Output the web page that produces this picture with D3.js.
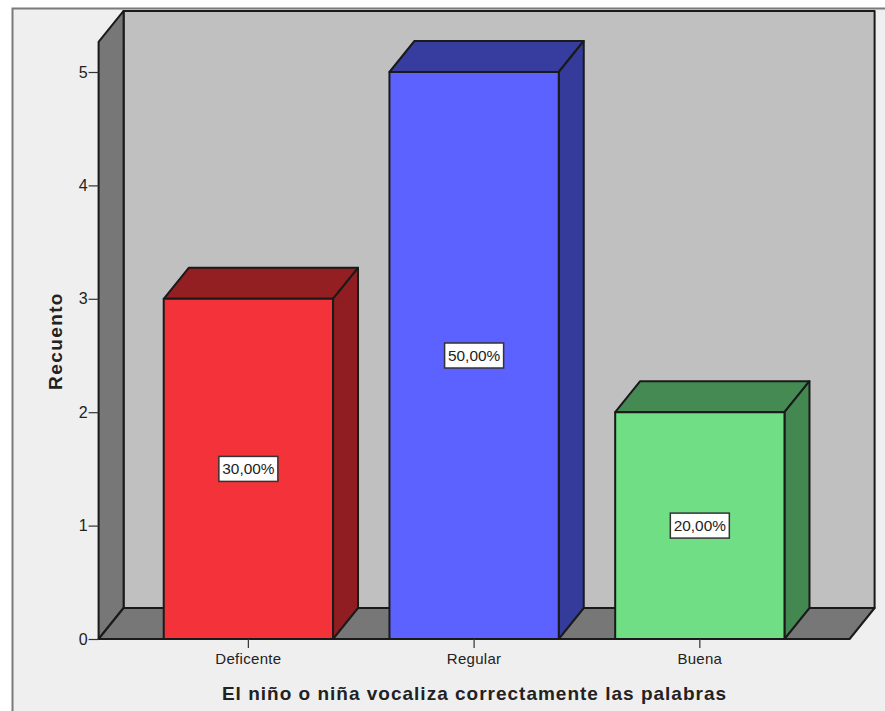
<!DOCTYPE html>
<html><head><meta charset="utf-8">
<script src="https://cdn.jsdelivr.net/npm/d3@7"></script>
<style>html,body{margin:0;padding:0;background:#fff;overflow:hidden}svg{display:block}text{font-family:"Liberation Sans",Arial,sans-serif;fill:#222}</style>
</head><body><svg id="c" width="885" height="711"></svg>
<script>
const categories = ["Deficente","Regular","Buena"];
const counts = [3,5,2];
const percentLabels = ["30,00%","50,00%","20,00%"];
const frontColors = ["#f33339","#5b62ff","#70de84"];
const topColors = ["#931f23","#373d9f","#458a52"];
const sideColors = ["#8f1d21","#353b9b","#438850"];
const yTicks = [0,1,2,3,4,5];
const xTitle = "El niño o niña vocaliza correctamente las palabras";
const yTitle = "Recuento";

const svg = d3.select("#c");
const dx = 25, dy = -31, line = "#1a1a1a";
const y = d3.scaleLinear().domain([0,5]).range([639,72]);
const x = d3.scaleBand().domain(categories).range([98.6,849.6]).paddingInner(0.25).paddingOuter(0.2885);
const top5 = y(5.265), x0 = 98.6, x1 = 849.6, y0 = y(0);

svg.append("rect").attr("x",12.5).attr("y",8.5).attr("width",880).attr("height",710)
  .attr("fill","#efefef").attr("stroke","#7a7a7a").attr("stroke-width",2);

const poly = (pts,fill,sw=2)=>svg.append("polygon").attr("points",pts.map(p=>p.join(",")).join(" "))
  .attr("fill",fill).attr("stroke",line).attr("stroke-width",sw).attr("stroke-linejoin","round");

poly([[x0+dx,top5+dy],[x1+dx,top5+dy],[x1+dx,y0+dy],[x0+dx,y0+dy]],"#c0c0c0");
poly([[x0,top5],[x0+dx,top5+dy],[x0+dx,y0+dy],[x0,y0]],"#777777");
poly([[x0,y0],[x0+dx,y0+dy],[x1+dx,y0+dy],[x1,y0]],"#777777");

categories.forEach((c,i)=>{
  const l=x(c), r=l+x.bandwidth(), t=y(counts[i]);
  poly([[l,t],[l+dx,t+dy],[r+dx,t+dy],[r,t]],topColors[i]);
  poly([[r,t],[r+dx,t+dy],[r+dx,y0+dy],[r,y0]],sideColors[i]);
  poly([[l,t],[r,t],[r,y0],[l,y0]],frontColors[i]);
});

const yAxis = svg.append("g").attr("transform",`translate(${x0},0)`)
  .call(d3.axisLeft(y).tickValues(yTicks).tickSize(10).tickPadding(1).tickFormat(d3.format("d")));
yAxis.select(".domain").remove();
yAxis.selectAll("line").attr("stroke","#333").attr("stroke-width",1.2);
yAxis.selectAll("text").attr("font-size",16).attr("fill","#222");

const xAxis = svg.append("g").attr("transform",`translate(0,${y0})`)
  .call(d3.axisBottom(x).tickSize(9).tickPadding(5));
xAxis.select(".domain").remove();
xAxis.selectAll("line").attr("stroke","#333").attr("stroke-width",1.2);
xAxis.selectAll("text").attr("font-size",15).attr("letter-spacing",0.3).attr("fill","#222");

categories.forEach((c,i)=>{
  const cx=x(c)+x.bandwidth()/2, cy=y(counts[i]/2);
  const g=svg.append("g");
  g.append("rect").attr("x",cx-29.5).attr("y",cy-12.5).attr("width",59).attr("height",25)
    .attr("fill","#fff").attr("stroke","#333").attr("stroke-width",1.5);
  g.append("text").attr("x",cx).attr("y",cy+5.5).attr("text-anchor","middle").attr("font-size",15.4).text(percentLabels[i]);
});

svg.append("text").attr("x",474.5).attr("y",700).attr("text-anchor","middle")
  .attr("font-size",19).attr("font-weight","bold").attr("letter-spacing",1).attr("fill","#111").text(xTitle);
svg.append("text").attr("transform","translate(62,341) rotate(-90)").attr("text-anchor","middle")
  .attr("font-size",19).attr("font-weight","bold").attr("letter-spacing",1.4).attr("fill","#111").text(yTitle);
</script></body></html>
